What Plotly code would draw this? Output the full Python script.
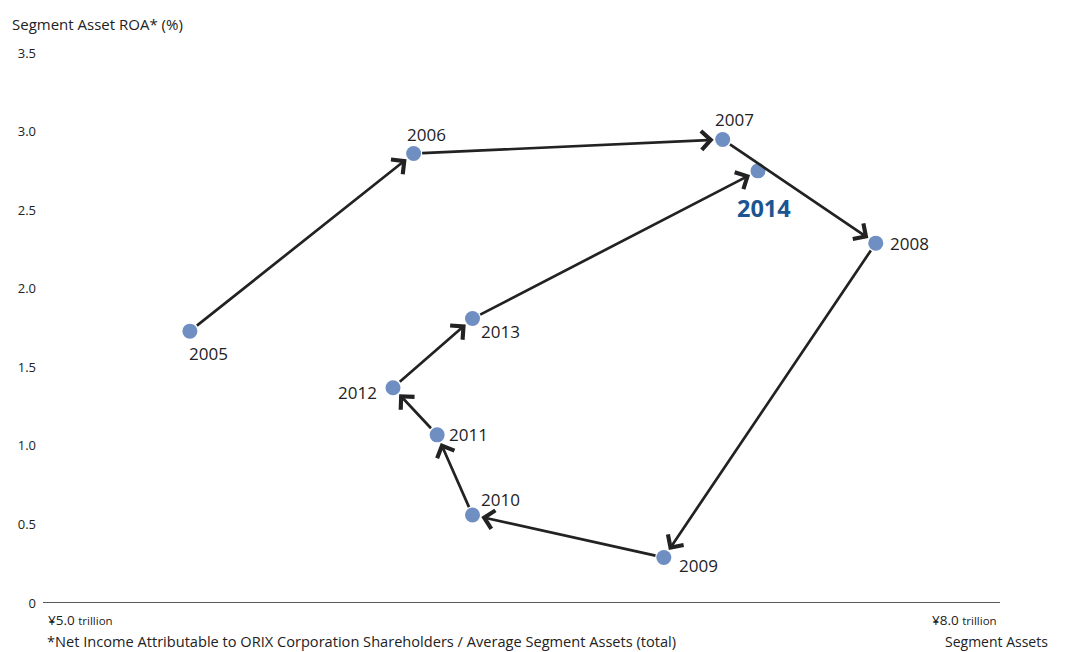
import plotly.graph_objects as go

years = ["2005", "2006", "2007", "2008", "2009", "2010", "2011", "2012", "2013", "2014"]
segment_assets = [5.37, 6.13, 7.18, 7.70, 6.98, 6.33, 6.21, 6.06, 6.33, 7.30]  # ¥ trillion
roa = [1.73, 2.86, 2.95, 2.29, 0.29, 0.56, 1.07, 1.37, 1.81, 2.75]  # %

y_ticks = [0, 0.5, 1.0, 1.5, 2.0, 2.5, 3.0, 3.5]
y_tick_text = ["0", "0.5", "1.0", "1.5", "2.0", "2.5", "3.0", "3.5"]
x_ticks = [5.0, 8.0]
x_tick_text = ["¥5.0", "¥8.0"]

# label placement (style): anchor, xshift, yshift
label_pos = {
    "2005": ("center", 19, -22),
    "2006": ("center", 13, 19),
    "2007": ("center", 12, 20),
    "2008": ("left", 12, 0),
    "2009": ("left", 13, -8),
    "2010": ("left", 7, 16),
    "2011": ("left", 10, 0),
    "2012": ("right", -14, -5),
    "2013": ("left", 7, -13),
    "2014": ("center", 6, -37),
}

FONT = "Open Sans"
fig = go.Figure()

fig.add_trace(go.Scatter(
    x=segment_assets, y=roa, mode="markers",
    marker=dict(size=15, color="#6f8fc2", line=dict(width=0)),
    hoverinfo="skip", showlegend=False, cliponaxis=False,
))

annotations = []
# arrows between consecutive years
for i in range(len(years) - 1):
    annotations.append(dict(
        x=segment_assets[i + 1], y=roa[i + 1],
        ax=segment_assets[i], ay=roa[i],
        xref="x", yref="y", axref="x", ayref="y",
        text="", showarrow=True,
        arrowhead=4, arrowsize=1.35, arrowwidth=2.7, arrowcolor="#222222",
        standoff=9, startstandoff=7,
    ))

# year labels
for i, yr in enumerate(years):
    anchor, xs, ys = label_pos[yr]
    if yr == "2014":
        font = dict(family=FONT, size=23.5, color="#1b5592")
        txt = "<b>" + yr + "</b>"
    else:
        font = dict(family=FONT, size=17, color="#222222")
        txt = yr
    annotations.append(dict(
        x=segment_assets[i], y=roa[i], xref="x", yref="y",
        text=txt, showarrow=False, font=font,
        xanchor=anchor, yanchor="middle", xshift=xs, yshift=ys,
    ))

# x tick labels with "trillion" in smaller type
for v, t in zip(x_ticks, x_tick_text):
    annotations.append(dict(
        x=v, y=0, xref="x", yref="y", yanchor="middle", xanchor="center",
        yshift=-17, showarrow=False,
        text=t + ' <span style="font-size:11.5px">trillion</span>',
        font=dict(family=FONT, size=13.5, color="#222222"),
    ))

annotations += [
    dict(x=10, y=24, xref="paper", yref="paper", text="Segment Asset ROA* (%)",
         showarrow=False, xanchor="left", yanchor="middle",
         font=dict(family=FONT, size=15, color="#222222")),
    dict(x=1050, y=641, xref="paper", yref="paper", text="Segment Assets",
         showarrow=False, xanchor="right", yanchor="middle",
         font=dict(family=FONT, size=14, color="#222222")),
    dict(x=45, y=641, xref="paper", yref="paper",
         text="*Net Income Attributable to ORIX Corporation Shareholders / Average Segment Assets (total)",
         showarrow=False, xanchor="left", yanchor="middle",
         font=dict(family=FONT, size=14.6, color="#222222")),
]

# convert pixel-positioned paper annotations
W, H = 1066, 652
ML, MR, MT, MB = 43, 66, 53, 49
pw, ph = W - ML - MR, H - MT - MB
for a in annotations:
    if a.get("xref") == "paper":
        a["x"] = (a["x"] - ML) / pw
        a["y"] = 1 - (a["y"] - MT) / ph

fig.update_layout(
    width=W, height=H,
    margin=dict(l=ML, r=MR, t=MT, b=MB),
    paper_bgcolor="white", plot_bgcolor="white",
    font=dict(family=FONT, color="#222222"),
    annotations=annotations,
    xaxis=dict(range=[4.871, 8.122], showgrid=False, zeroline=False,
               showline=False, showticklabels=False, fixedrange=True),
    yaxis=dict(range=[0, 3.5], tickvals=y_ticks, ticktext=y_tick_text,
               showgrid=False, zeroline=False, showline=False,
               ticks="", ticklabelstandoff=6, fixedrange=True,
               tickfont=dict(family=FONT, size=13, color="#222222")),
    shapes=[dict(type="line", xref="paper", yref="y", x0=0, x1=1, y0=0, y1=0,
                 line=dict(color="#222222", width=1.5))],
)

fig.write_html(
    "out.html",
    config={"displayModeBar": False},
    post_script="document.body.style.margin='0px';document.body.style.overflow='hidden';",
)
